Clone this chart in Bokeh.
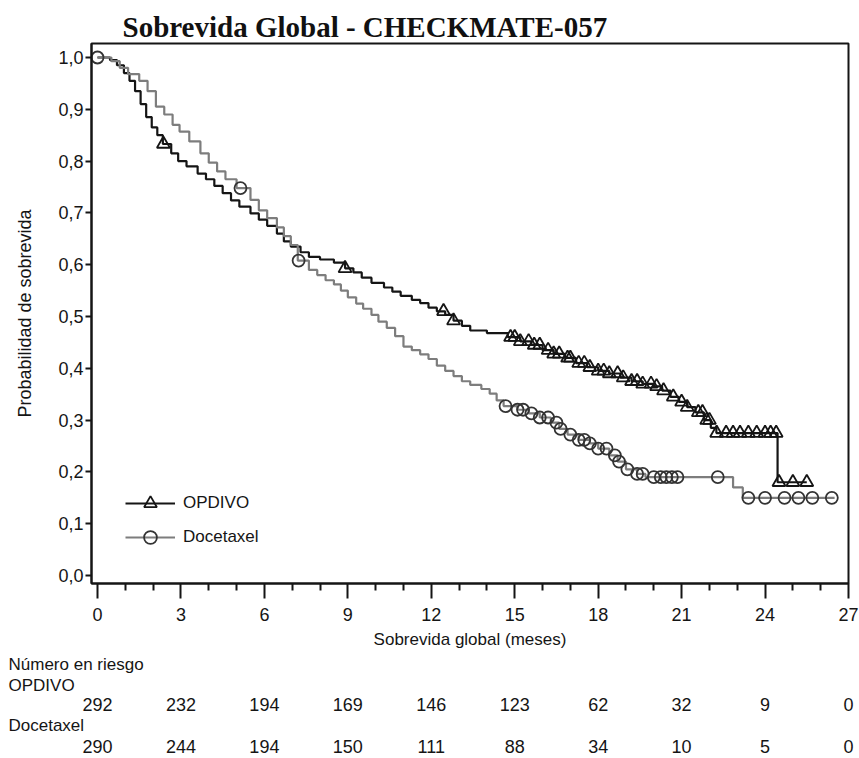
import numpy as np
from bokeh.plotting import figure
from bokeh.layouts import column
from bokeh.models import (FixedTicker, CustomJSTickFormatter, ColumnDataSource,
                          Legend, LegendItem, Range1d)
from bokeh.core.properties import value
from bokeh.embed import file_html
from bokeh.resources import INLINE

# ---------------- data ----------------
title_text = "Sobrevida Global - CHECKMATE-057"
x_label = "Sobrevida global (meses)"
y_label = "Probabilidad de sobrevida"
arm_names = ["OPDIVO", "Docetaxel"]

# OPDIVO Kaplan-Meier: time (months) at which survival drops to value
opdivo_t = [0.0, 0.45, 0.7, 0.95, 1.15, 1.35, 1.55, 1.75, 1.95, 2.15, 2.35, 2.65, 2.9,
            3.2, 3.6, 3.9, 4.2, 4.5, 4.8, 5.1, 5.5, 5.8, 6.1, 6.45, 6.7, 6.95, 7.3,
            7.6, 8.0, 8.5, 8.9, 9.2, 9.5, 9.85, 10.3, 10.6, 10.9, 11.3, 11.6, 11.9,
            12.2, 12.5, 12.8, 13.1, 13.4, 14.0, 14.75, 15.2, 15.6, 16.0, 16.4, 16.8,
            17.2, 17.6, 18.0, 18.4, 18.8, 19.2, 19.6, 20.0, 20.3, 20.6, 20.9, 21.2,
            21.5, 21.8, 22.05, 22.25, 24.45, 25.5]
opdivo_s = [1.0, 0.995, 0.985, 0.97, 0.955, 0.935, 0.91, 0.885, 0.865, 0.85, 0.833, 0.815, 0.8,
            0.79, 0.776, 0.765, 0.752, 0.738, 0.724, 0.712, 0.699, 0.687, 0.675, 0.66, 0.645, 0.635, 0.624,
            0.615, 0.61, 0.604, 0.593, 0.585, 0.575, 0.565, 0.556, 0.548, 0.54, 0.532, 0.526, 0.517,
            0.51, 0.503, 0.492, 0.482, 0.473, 0.468, 0.46, 0.452, 0.445, 0.435, 0.428, 0.42,
            0.41, 0.402, 0.395, 0.39, 0.382, 0.375, 0.37, 0.365, 0.357, 0.345, 0.335, 0.325,
            0.315, 0.3, 0.285, 0.275, 0.18, 0.18]
opdivo_censor_t = [2.37, 8.9, 12.44, 12.8, 14.85, 15.0, 15.2, 15.5, 15.7, 15.9, 16.2, 16.4,
                   16.6, 16.9, 17.0, 17.3, 17.5, 17.7, 18.0, 18.2, 18.4, 18.7, 18.9, 19.2,
                   19.4, 19.6, 19.9, 20.1, 20.35, 20.7, 21.0, 21.2, 21.6, 21.75, 21.9, 22.0,
                   22.26, 22.6, 22.85, 23.1, 23.4, 23.7, 24.0, 24.2, 24.4, 24.5, 25.0, 25.5]

# Docetaxel Kaplan-Meier
docetaxel_t = [0.0, 0.5, 0.8, 1.1, 1.5, 1.8, 2.1, 2.4, 2.7, 2.95, 3.3, 3.7, 4.0, 4.3, 4.6,
               5.0, 5.5, 5.8, 6.1, 6.45, 6.7, 6.95, 7.2, 7.6, 7.9, 8.2, 8.5, 8.75, 9.0,
               9.3, 9.55, 9.85, 10.1, 10.4, 10.7, 11.0, 11.3, 11.6, 11.9, 12.2, 12.5, 12.8,
               13.1, 13.4, 13.8, 14.1, 14.35, 14.6, 15.1, 15.5, 15.9, 16.3, 16.6, 16.9,
               17.3, 17.7, 18.0, 18.4, 18.7, 19.0, 19.4, 19.7, 22.85, 23.2, 26.5]
docetaxel_s = [1.0, 0.993, 0.98, 0.968, 0.955, 0.935, 0.905, 0.89, 0.87, 0.857, 0.838, 0.815, 0.797, 0.78, 0.765,
               0.748, 0.725, 0.705, 0.69, 0.672, 0.655, 0.638, 0.608, 0.59, 0.58, 0.57, 0.562, 0.55, 0.537,
               0.525, 0.515, 0.503, 0.49, 0.478, 0.462, 0.442, 0.435, 0.427, 0.418, 0.405, 0.395, 0.385,
               0.375, 0.368, 0.36, 0.351, 0.338, 0.327, 0.32, 0.313, 0.305, 0.295, 0.283, 0.272,
               0.262, 0.255, 0.245, 0.232, 0.22, 0.205, 0.196, 0.19, 0.17, 0.15, 0.15]
docetaxel_censor_t = [0.0, 5.14, 7.23, 14.67, 15.1, 15.3, 15.6, 15.9, 16.2, 16.5, 16.65, 17.0,
                      17.3, 17.5, 17.7, 18.0, 18.3, 18.6, 18.75, 19.05, 19.4, 19.6, 20.0, 20.25,
                      20.45, 20.65, 20.85, 22.3, 23.4, 24.0, 24.7, 25.2, 25.7, 26.4]

# Numbers at risk
risk_times = [0, 3, 6, 9, 12, 15, 18, 21, 24, 27]
risk_opdivo = [292, 232, 194, 169, 146, 123, 62, 32, 9, 0]
risk_docetaxel = [290, 244, 194, 150, 111, 88, 34, 10, 5, 0]
risk_title = "Número en riesgo"

x_ticks = [0, 3, 6, 9, 12, 15, 18, 21, 24, 27]
y_ticks = [0.0, 0.1, 0.2, 0.3, 0.4, 0.5, 0.6, 0.7, 0.8, 0.9, 1.0]

# ---------------- layout / styling ----------------
SANS = "Liberation Sans"
SERIF = "Liberation Serif"
BLACK = "#151515"
GREY = "#7d7d7d"

W = 859
H_MAIN = 651
H_TABLE = 105
FRAME_L, FRAME_R, FRAME_T, FRAME_B = 91, 848, 43, 583
X0_PX, X27_PX = 97, 848          # pixel of month 0 and month 27
Y0_PX, Y1_PX = 575, 57           # pixel of prob 0 and prob 1
pxm = (X27_PX - X0_PX) / 27.0
pxy = (Y0_PX - Y1_PX) / 1.0
x_start = -(X0_PX - FRAME_L) / pxm
x_end = 27.0 + (FRAME_R - X27_PX) / pxm
y_start = -(FRAME_B - Y0_PX) / pxy
y_end = 1.0 + (Y1_PX - FRAME_T) / pxy


def surv_at(times, surv, t):
    idx = np.searchsorted(np.array(times), np.array(t), side="right") - 1
    return list(np.array(surv)[idx])


p = figure(width=W, height=H_MAIN, output_backend="svg", toolbar_location=None,
           x_range=Range1d(x_start, x_end), y_range=Range1d(y_start, y_end),
           min_border_left=FRAME_L, min_border_right=W - FRAME_R,
           min_border_top=FRAME_T, min_border_bottom=H_MAIN - FRAME_B,
           background_fill_color="white", border_fill_color="white")
p.frame_align = False
p.grid.visible = False
p.outline_line_color = BLACK
p.outline_line_width = 2

p.title.text = title_text
p.title.align = "left"
p.title.offset = 31
p.title.standoff = 2
p.title.text_font = SERIF
p.title.text_font_style = "bold"
p.title.text_font_size = "29px"
p.title.text_color = "#111111"

op_src = ColumnDataSource(dict(t=opdivo_t, s=opdivo_s))
dc_src = ColumnDataSource(dict(t=docetaxel_t, s=docetaxel_s))
op_line = p.step("t", "s", source=op_src, mode="after", line_color=BLACK, line_width=2.2)
dc_line = p.step("t", "s", source=dc_src, mode="after", line_color=GREY, line_width=2.2)

op_c = ColumnDataSource(dict(t=opdivo_censor_t, s=surv_at(opdivo_t, opdivo_s, opdivo_censor_t)))
dc_c = ColumnDataSource(dict(t=docetaxel_censor_t, s=surv_at(docetaxel_t, docetaxel_s, docetaxel_censor_t)))
dc_marks = p.scatter("t", "s", source=dc_c, marker="circle", size=12, line_color="#333333",
                     line_width=1.8, fill_alpha=0)
op_marks = p.scatter("t", "s", source=op_c, marker="triangle", size=13, line_color=BLACK,
                     line_width=1.8, fill_alpha=0)

# axes
xa = p.xaxis[0]
xa.ticker = FixedTicker(ticks=x_ticks, minor_ticks=[m for m in range(28) if m % 3 != 0])
xa.axis_label = x_label
xa.axis_line_width = 2
xa.axis_line_color = BLACK
xa.major_tick_in = 0
xa.major_tick_out = 15
xa.minor_tick_in = 0
xa.minor_tick_out = 7
xa.major_tick_line_width = 2
xa.minor_tick_line_width = 2
xa.major_tick_line_color = BLACK
xa.minor_tick_line_color = BLACK
xa.major_label_standoff = 9
xa.major_label_text_font = SANS
xa.major_label_text_font_size = "18px"
xa.major_label_text_color = BLACK
xa.axis_label_text_font = SANS
xa.axis_label_text_font_size = "17px"
xa.axis_label_text_font_style = "normal"
xa.axis_label_text_color = BLACK
xa.axis_label_standoff = 6

ya = p.yaxis[0]
ya.ticker = FixedTicker(ticks=y_ticks, minor_ticks=[])
ya.formatter = CustomJSTickFormatter(code="return tick.toFixed(1).replace('.', ',');")
ya.axis_label = y_label
ya.axis_line_width = 2
ya.axis_line_color = BLACK
ya.major_tick_in = 0
ya.major_tick_out = 6
ya.major_tick_line_width = 2
ya.major_tick_line_color = BLACK
ya.major_label_standoff = 2
ya.major_label_text_font = SANS
ya.major_label_text_font_size = "18px"
ya.major_label_text_color = BLACK
ya.axis_label_text_font = SANS
ya.axis_label_text_font_size = "18px"
ya.axis_label_text_font_style = "normal"
ya.axis_label_text_color = BLACK
ya.axis_label_standoff = 20

# legend
legend = Legend(items=[LegendItem(label=arm_names[0], renderers=[op_line, op_marks]),
                       LegendItem(label=arm_names[1], renderers=[dc_line, dc_marks])],
                location=(34, 30), orientation="vertical", padding=0, margin=0,
                spacing=2, glyph_width=50, glyph_height=32, label_height=32,
                label_standoff=8, label_text_font=SANS, label_text_font_size="17px",
                label_text_color=BLACK, border_line_color=None, background_fill_alpha=0)
p.add_layout(legend)

# ---------------- risk table (second figure on the same month scale) ----------------
t_start = -X0_PX / pxm
t_end = (W - X0_PX) / pxm
t = figure(width=W, height=H_TABLE, output_backend="svg", toolbar_location=None,
           x_range=Range1d(t_start, t_end), y_range=Range1d(H_TABLE, 0),
           x_axis_type=None, y_axis_type=None,
           min_border_left=0, min_border_right=0, min_border_top=0, min_border_bottom=0,
           background_fill_color="white", border_fill_color="white")
t.frame_align = False
t.grid.visible = False
t.outline_line_color = None

LEFT_TXT = (8 - X0_PX) / pxm
row_titles = ColumnDataSource(dict(x=[LEFT_TXT] * 3, y=[13, 34, 74],
                                   txt=[risk_title, arm_names[0], arm_names[1]]))
t.text("x", "y", text="txt", source=row_titles, text_font=value(SANS),
       text_font_size="17px", text_color=BLACK, text_align="left", text_baseline="alphabetic")

for counts, yy in [(risk_opdivo, 53), (risk_docetaxel, 95)]:
    src = ColumnDataSource(dict(x=risk_times, y=[yy] * len(risk_times), n=[str(c) for c in counts]))
    t.text("x", "y", text="n", source=src, text_font=value(SANS), text_font_size="18px",
           text_color=BLACK, text_align="center", text_baseline="alphabetic")

layout = column(p, t, spacing=0)
open("out.html", "w").write(file_html(layout, INLINE))
